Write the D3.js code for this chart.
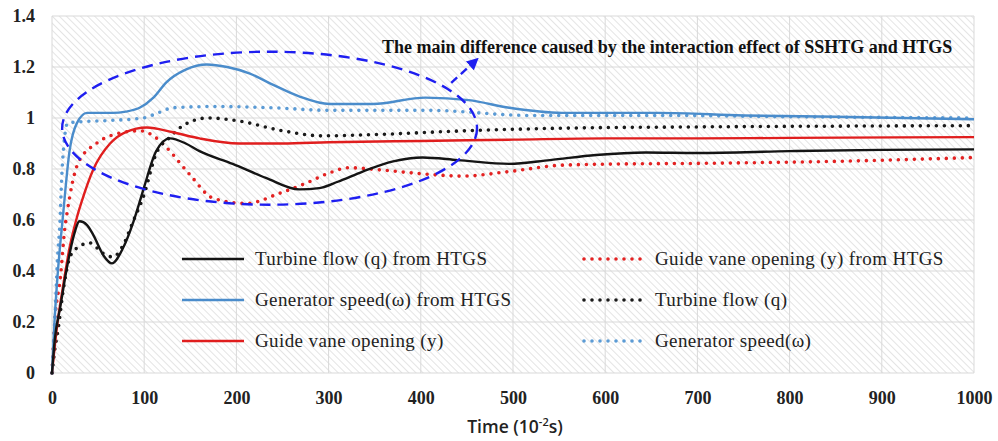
<!DOCTYPE html>
<html>
<head>
<meta charset="utf-8">
<script src="https://cdn.jsdelivr.net/npm/d3@7"></script>
<style>
  html, body { margin: 0; padding: 0; background: #fff; }
  svg { display: block; }
</style>
</head>
<body>
<div id="chart"></div>
<script>
// readings: [time (10^-2 s), value]
const turbineFlowHTGS = [[0,0],[3,0.13],[9,0.26],[16,0.41],[23,0.53],[30,0.595],[38,0.58],[45,0.54],[56,0.46],[65,0.43],[77,0.49],[88,0.59],[95,0.67],[100,0.73],[113,0.87],[128,0.92],[145,0.9],[160,0.87],[196,0.82],[232,0.765],[268,0.72],[290,0.725],[310,0.75],[337,0.79],[370,0.83],[402,0.845],[440,0.835],[496,0.82],[540,0.835],[590,0.855],[644,0.865],[700,0.863],[800,0.87],[900,0.875],[1000,0.877]];
const genSpeedHTGS = [[0,0],[3,0.22],[6,0.38],[12,0.62],[19,0.87],[27,0.98],[38,1.02],[50,1.02],[66,1.02],[80,1.025],[95,1.04],[110,1.08],[124,1.14],[145,1.19],[168,1.21],[190,1.2],[214,1.175],[240,1.13],[268,1.085],[301,1.055],[348,1.055],[405,1.08],[452,1.07],[496,1.04],[553,1.02],[625,1.02],[658,1.02],[750,1.01],[850,1.005],[1000,0.995]];
const guideVane = [[0,0],[5,0.17],[12,0.34],[19,0.49],[27,0.61],[32,0.67],[45,0.8],[63,0.9],[80,0.945],[103,0.963],[130,0.945],[160,0.92],[203,0.9],[250,0.9],[300,0.905],[400,0.91],[500,0.915],[600,0.92],[700,0.92],[800,0.922],[1000,0.925]];
const guideVaneHTGS = [[0,0],[3,0.2],[9,0.37],[14,0.57],[16,0.62],[28,0.82],[48,0.9],[63,0.93],[95,0.95],[110,0.93],[124,0.885],[149,0.78],[175,0.685],[211,0.665],[247,0.705],[276,0.745],[301,0.785],[322,0.805],[360,0.795],[405,0.78],[445,0.772],[496,0.79],[553,0.815],[625,0.82],[700,0.822],[766,0.825],[850,0.83],[1000,0.845]];
const turbineFlow = [[0,0],[3,0.09],[7,0.18],[12,0.32],[19,0.45],[27,0.49],[41,0.51],[55,0.47],[66,0.455],[77,0.5],[88,0.595],[99,0.69],[113,0.86],[128,0.925],[142,0.97],[169,1.0],[200,0.99],[250,0.95],[293,0.93],[350,0.935],[450,0.95],[553,0.96],[700,0.965],[850,0.968],[1000,0.97]];
const genSpeed = [[0,0],[3,0.2],[6,0.45],[9,0.62],[10,0.72],[13,0.9],[17,0.98],[30,0.985],[60,0.99],[99,1.0],[115,1.02],[131,1.04],[175,1.045],[240,1.04],[301,1.03],[409,1.03],[517,1.01],[660,1.01],[800,1.005],[1000,1.0]];

const xTicks = [0,100,200,300,400,500,600,700,800,900,1000];
const yTicks = [0,0.2,0.4,0.6,0.8,1,1.2,1.4];
const legendLeft = ['Turbine flow (q) from HTGS', 'Generator speed(ω) from HTGS', 'Guide vane opening (y)'];
const legendRight = ['Guide vane opening (y) from HTGS', 'Turbine flow (q)', 'Generator speed(ω)'];
const noteText = 'The main difference caused by the interaction effect of SSHTG and HTGS';

const W = 998, H = 441;
const m = {top: 16, right: 24, bottom: 68, left: 52};

const svg = d3.select('#chart').append('svg').attr('width', W).attr('height', H);
const x = d3.scaleLinear().domain([0, 1000]).range([m.left, W - m.right]);
const y = d3.scaleLinear().domain([0, 1.4]).range([H - m.bottom, m.top]);

// hatched plot background
const defs = svg.append('defs');
defs.append('pattern').attr('id', 'hatch').attr('patternUnits', 'userSpaceOnUse')
  .attr('width', 5).attr('height', 10).attr('patternTransform', 'rotate(-45)')
  .append('line').attr('x1', 0).attr('y1', 0).attr('x2', 0).attr('y2', 10)
  .attr('stroke', '#d2d2d2').attr('stroke-width', 1.2);
defs.append('marker').attr('id', 'arrow').attr('viewBox', '0 0 10 10')
  .attr('refX', 5).attr('refY', 5).attr('markerWidth', 5).attr('markerHeight', 5)
  .attr('orient', 'auto').attr('markerUnits', 'strokeWidth')
  .append('path').attr('d', 'M0,0 L10,5 L0,10 z').attr('fill', '#1e1ef0');

svg.append('rect').attr('x', x(0)).attr('y', y(1.4))
  .attr('width', x(1000) - x(0)).attr('height', y(0) - y(1.4))
  .attr('fill', 'url(#hatch)');

// gridlines
svg.append('g').selectAll('line').data(yTicks).join('line')
  .attr('x1', x(0)).attr('x2', x(1000)).attr('y1', d => y(d)).attr('y2', d => y(d))
  .attr('stroke', '#d9d9d9').attr('stroke-width', 1);
svg.append('g').selectAll('line').data(xTicks).join('line')
  .attr('y1', y(0)).attr('y2', y(1.4)).attr('x1', d => x(d)).attr('x2', d => x(d))
  .attr('stroke', '#d9d9d9').attr('stroke-width', 1);

// axes (labels only)
const yAxis = svg.append('g').attr('transform', 'translate(' + (x(0) - 14) + ',0)')
  .call(d3.axisLeft(y).tickValues(yTicks).tickSize(0).tickFormat(d3.format('~g')));
const xAxis = svg.append('g').attr('transform', 'translate(0,' + (y(0) + 15) + ')')
  .call(d3.axisBottom(x).tickValues(xTicks).tickSize(0).tickFormat(d3.format('d')));
[yAxis, xAxis].forEach(a => {
  a.select('.domain').remove();
  a.selectAll('text').attr('font-family', '"Liberation Serif", "Times New Roman", serif')
    .attr('font-size', 18).attr('font-weight', 'bold').attr('fill', '#222');
});

svg.append('text').attr('x', 515).attr('y', 433).attr('text-anchor', 'middle')
  .attr('font-family', '"Open Sans", sans-serif').attr('font-size', 17.5).attr('font-weight', 600)
  .attr('fill', '#222')
  .html('Time (10<tspan baseline-shift="super" font-size="11">-2</tspan>s)');

// series
const line = d3.line().x(d => x(d[0])).y(d => y(d[1])).curve(d3.curveMonotoneX);
const solid = {fill: 'none', 'stroke-width': 2.4, 'stroke-linejoin': 'round'};
const dotted = {fill: 'none', 'stroke-width': 3.6, 'stroke-linecap': 'round', 'stroke-dasharray': '0 8'};

const series = [
  {data: guideVaneHTGS, color: '#e32222', style: dotted},
  {data: genSpeed, color: '#5b9bd5', style: dotted},
  {data: turbineFlow, color: '#1a1a1a', style: dotted},
  {data: guideVane, color: '#e01e1e', style: solid},
  {data: genSpeedHTGS, color: '#4a8ccb', style: solid},
  {data: turbineFlowHTGS, color: '#141414', style: solid}
];
series.forEach(s => {
  const p = svg.append('path').attr('d', line(s.data)).attr('stroke', s.color);
  Object.entries(s.style).forEach(([k, v]) => p.attr(k, v));
});

// legend
const legRows = [259, 300, 341];
const legFont = '"Liberation Serif", "Times New Roman", serif';
const leftStyles = [{c: '#141414', s: solid}, {c: '#4a8ccb', s: solid}, {c: '#e01e1e', s: solid}];
const rightStyles = [{c: '#e32222', s: dotted}, {c: '#1a1a1a', s: dotted}, {c: '#5b9bd5', s: dotted}];
function legendCol(labels, styles, x1, x2, tx){
  labels.forEach((lab, i) => {
    const l = svg.append('line').attr('x1', x1).attr('x2', x2)
      .attr('y1', legRows[i]).attr('y2', legRows[i]).attr('stroke', styles[i].c);
    Object.entries(styles[i].s).forEach(([k, v]) => { if (k !== 'fill') l.attr(k, v); });
    svg.append('text').attr('x', tx).attr('y', legRows[i] + 6)
      .attr('font-family', legFont).attr('font-size', 19).attr('letter-spacing', 0.4)
      .attr('fill', '#222').text(lab);
  });
}
legendCol(legendLeft, leftStyles, 182, 244, 255);
legendCol(legendRight, rightStyles, 584, 642, 655);

// annotation: dashed ellipse, arrow, note
svg.append('ellipse').attr('cx', x(236)).attr('cy', y(0.96))
  .attr('rx', x(225) - x(0)).attr('ry', y(0.66) - y(0.96))
  .attr('fill', 'none').attr('stroke', '#1e1ef0').attr('stroke-width', 2.4)
  .attr('stroke-dasharray', '11 7');
svg.append('line').attr('x1', x(433)).attr('y1', y(1.138)).attr('x2', x(458)).attr('y2', y(1.22))
  .attr('stroke', '#1e1ef0').attr('stroke-width', 2.4).attr('stroke-dasharray', '8 5')
  .attr('marker-end', 'url(#arrow)');
svg.append('text').attr('x', x(358)).attr('y', y(1.253))
  .attr('font-family', legFont).attr('font-size', 18).attr('font-weight', 'bold')
  .attr('fill', '#111').text(noteText);
</script>
</body>
</html>
